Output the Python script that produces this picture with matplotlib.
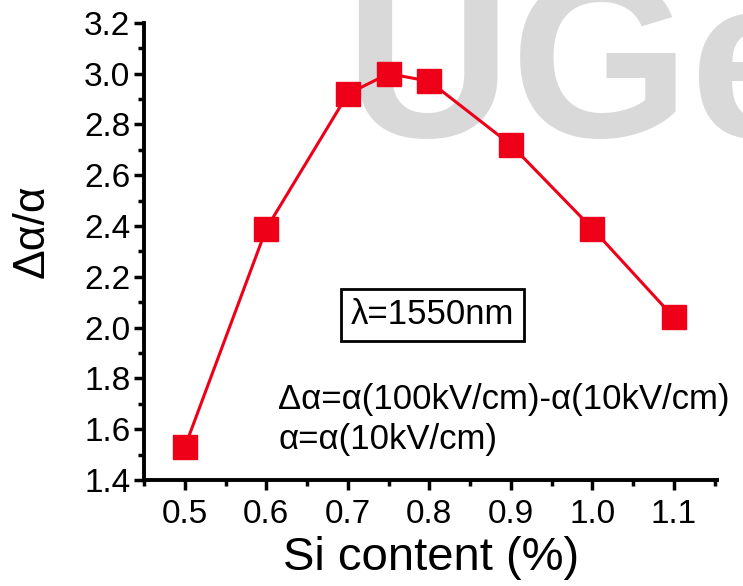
import numpy as np
import matplotlib
matplotlib.use("Agg")
import matplotlib.pyplot as plt
from matplotlib.ticker import MultipleLocator

# data
si_content = [0.5, 0.6, 0.7, 0.75, 0.8, 0.9, 1.0, 1.1]
ratio = [1.53, 2.39, 2.92, 3.00, 2.97, 2.72, 2.39, 2.04]
x_ticks = [0.5, 0.6, 0.7, 0.8, 0.9, 1.0, 1.1]
y_ticks = [1.4, 1.6, 1.8, 2.0, 2.2, 2.4, 2.6, 2.8, 3.0, 3.2]

plt.rcParams['font.family'] = ['Liberation Sans', 'DejaVu Sans']

fig = plt.figure(figsize=(7.43, 5.86), dpi=100)
ax = fig.add_axes([0.194, 0.181, 0.771, 0.78])
ax.patch.set_alpha(0)

# watermark behind everything
fig.text(0.463, 1 - 137/586, "UGe", fontsize=166, fontweight='bold',
         color='#d9d9d9', ha='left', va='baseline', zorder=-5)

red = '#ee0018'
ax.plot(si_content, ratio, color=red, lw=2.2, marker='s', ms=17,
        markerfacecolor=red, markeredgecolor=red, clip_on=False)

ax.set_xlim(0.45, 1.153)
ax.set_ylim(1.4, 3.2)
ax.set_xticks(x_ticks)
ax.set_xticklabels([f"{v:.1f}" for v in x_ticks])
ax.set_yticks(y_ticks)
ax.set_yticklabels([f"{v:.1f}" for v in y_ticks])
ax.xaxis.set_minor_locator(MultipleLocator(0.05))
ax.yaxis.set_minor_locator(MultipleLocator(0.1))

for s in ['top', 'right']:
    ax.spines[s].set_visible(False)
for s in ['left', 'bottom']:
    ax.spines[s].set_linewidth(2.8)

ax.tick_params(which='major', direction='out', length=7, width=2.5,
               labelsize=24, pad=3)
ax.tick_params(which='minor', direction='out', length=4, width=2.5)
ax.tick_params(axis='x', pad=7)

ax.set_xlabel("Si content (%)", fontsize=34, labelpad=4)
ax.set_ylabel("Δα/α", fontsize=32)
ax.yaxis.set_label_coords(-0.16, 0.545)

ax.text(0.503, 0.361, "λ=1550nm", transform=ax.transAxes, fontsize=25,
        ha='center', va='center',
        bbox=dict(boxstyle='square,pad=0.28', fc='white', ec='black', lw=2))
ax.text(0.234, 0.175, "Δα=α(100kV/cm)-α(10kV/cm)", transform=ax.transAxes,
        fontsize=25, ha='left', va='center')
ax.text(0.234, 0.088, "α=α(10kV/cm)", transform=ax.transAxes,
        fontsize=25, ha='left', va='center')

plt.savefig("out.png", dpi=100)
